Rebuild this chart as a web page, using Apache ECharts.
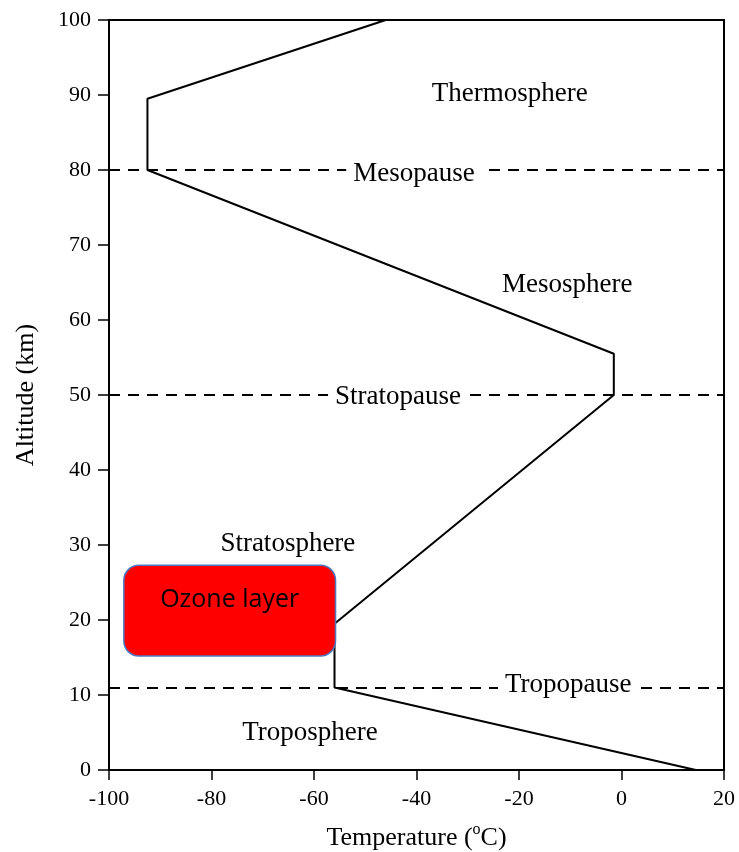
<!DOCTYPE html>
<html>
<head>
<meta charset="utf-8">
<script src="https://cdn.jsdelivr.net/npm/echarts@6/dist/echarts.min.js"></script>
<style>html,body{margin:0;padding:0;background:#fff}#c{width:739px;height:852px}</style>
</head>
<body>
<div id="c"></div>
<script>
// Temperature profile (°C) vs altitude (km)
const temperature = [14.5, -56, -56, -1.5, -1.5, -92.5, -92.5, -46];
const altitude    = [0, 11, 19.5, 50, 55.5, 80, 89.5, 100];

// Boundary (pause) altitudes, dashed lines
const pauseAltitudes = [80, 50, 11];

// Layer labels
const labelNames = ['Thermosphere', 'Mesosphere', 'Stratosphere', 'Troposphere'];
const labelTemps = [-21.8, -10.6, -65.1, -60.8];
const labelAlts  = [90.2, 64.7, 30.1, 5.0];

// Boundary labels
const pauseNames = ['Mesopause', 'Stratopause', 'Tropopause'];
const pauseTemps = [-40.5, -43.6, -10.4];
const pauseAlts  = [79.5, 49.7, 11.4];

// Ozone layer box: [tempLeft, altTop, tempRight, altBottom]
const ozoneBox = [-97.1, 27.3, -55.8, 15.2];
const ozoneText = 'Ozone layer';

// Axis settings
const xMin = -100, xMax = 20, xStep = 20;
const yMin = 0, yMax = 100, yStep = 10;

const serif = '"Liberation Serif", "DejaVu Serif", serif';

const chart = echarts.init(document.getElementById('c'));

const profile = temperature.map((t, i) => [t, altitude[i]]);
const layerData = labelNames.map((n, i) => [labelTemps[i], labelAlts[i], n]);
const pauseData = pauseNames.map((n, i) => [pauseTemps[i], pauseAlts[i], n]);

function textSeries(data, withBg) {
  return {
    type: 'custom',
    silent: true,
    z: 6,
    data: data,
    renderItem: function (params, api) {
      const p = api.coord([api.value(0), api.value(1)]);
      const style = {
        x: p[0], y: p[1],
        text: data[params.dataIndex][2],
        fill: '#000',
        font: '27px ' + serif,
        align: 'center', verticalAlign: 'middle'
      };
      if (withBg) {
        style.backgroundColor = '#fff';
        style.padding = [2, 7];
      }
      return { type: 'text', style: style };
    }
  };
}

chart.setOption({
  animation: false,
  backgroundColor: '#fff',
  grid: {
    left: 109, right: 15, top: 20, bottom: 82,
    outerBoundsMode: 'none', containLabel: false,
    show: true, borderColor: '#000', borderWidth: 2, backgroundColor: 'transparent'
  },
  xAxis: {
    type: 'value', min: xMin, max: xMax, interval: xStep,
    name: 'Temperature ({sup|o}C)', nameLocation: 'middle', nameGap: 52,
    nameTextStyle: {
      fontFamily: serif, fontSize: 26, color: '#000', lineHeight: 32,
      rich: { sup: { fontFamily: serif, fontSize: 16, color: '#000', verticalAlign: 'top', lineHeight: 14 } }
    },
    axisLine: { show: true, onZero: false, lineStyle: { color: '#000', width: 2 } },
    axisTick: { show: true, inside: false, length: 10, lineStyle: { color: '#000', width: 1.5 } },
    axisLabel: { fontFamily: serif, fontSize: 22, color: '#000', margin: 18 },
    splitLine: { show: false }
  },
  yAxis: {
    type: 'value', min: yMin, max: yMax, interval: yStep,
    name: 'Altitude (km)', nameLocation: 'middle', nameGap: 70,
    nameTextStyle: { fontFamily: serif, fontSize: 26, color: '#000' },
    axisLine: { show: true, onZero: false, lineStyle: { color: '#000', width: 2 } },
    axisTick: { show: true, inside: false, length: 11, lineStyle: { color: '#000', width: 1.5 } },
    axisLabel: { fontFamily: serif, fontSize: 22, color: '#000', margin: 18 },
    splitLine: { show: false }
  },
  series: [
    {
      type: 'line',
      data: profile,
      symbol: 'none',
      lineStyle: { color: '#000', width: 2 },
      silent: true,
      z: 2,
      markLine: {
        silent: true,
        symbol: ['none', 'none'],
        label: { show: false },
        lineStyle: { color: '#000', width: 2, type: [11, 8] },
        data: pauseAltitudes.map(a => ({ yAxis: a }))
      }
    },
    {
      type: 'custom',
      silent: true,
      z: 4,
      data: [ozoneBox],
      renderItem: function (params, api) {
        const p0 = api.coord([api.value(0), api.value(1)]);
        const p1 = api.coord([api.value(2), api.value(3)]);
        return {
          type: 'group',
          children: [
            {
              type: 'rect',
              shape: { x: p0[0], y: p0[1], width: p1[0] - p0[0], height: p1[1] - p0[1], r: 15 },
              style: { fill: '#ff0000', stroke: '#4a78c2', lineWidth: 1.5 }
            },
            {
              type: 'text',
              style: {
                x: (p0[0] + p1[0]) / 2, y: p0[1] + 35,
                text: ozoneText, fill: '#000',
                font: '25px "Open Sans", "Liberation Sans", sans-serif',
                align: 'center', verticalAlign: 'middle'
              }
            }
          ]
        };
      }
    },
    textSeries(layerData, false),
    textSeries(pauseData, true)
  ]
});
</script>
</body>
</html>
